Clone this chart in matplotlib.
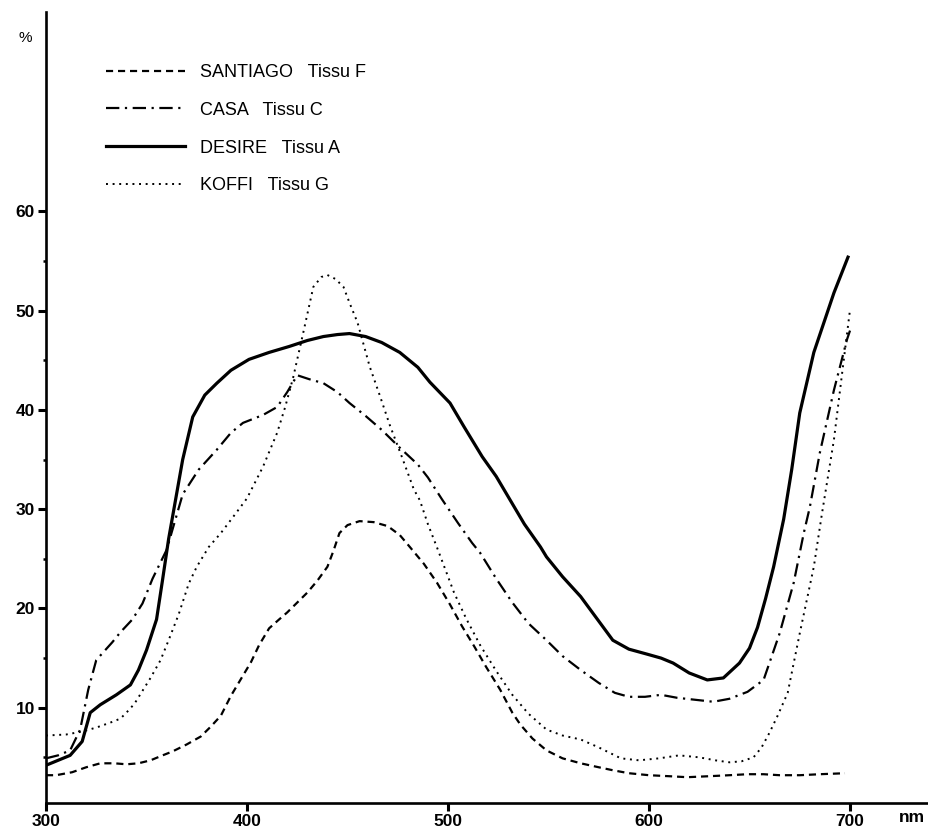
import matplotlib
matplotlib.use("Agg")
import matplotlib.pyplot as plt
from matplotlib.ticker import FixedLocator

plt.rcParams['font.family'] = ['Liberation Sans', 'DejaVu Sans']

# --- data (wavelength nm, %) ---
santiago_x = [300, 305, 313, 320, 327, 334, 340, 346, 352, 358, 363, 370, 377, 382, 387, 392, 397, 402, 406,
              411, 416, 420, 425, 430, 435, 440, 443, 446, 450, 456, 463, 470, 476, 481, 488, 494.5, 501, 507,
              513, 519, 526, 532, 536, 542, 549, 557, 566, 575, 582, 590, 600, 610, 619, 630, 640, 649, 657,
              665, 675, 685, 697.5]
santiago_y = [3.2, 3.2, 3.5, 4.0, 4.4, 4.4, 4.3, 4.4, 4.7, 5.2, 5.6, 6.3, 7.1, 8.1, 9.2, 11.2, 12.9, 14.6, 16.3,
              18.0, 18.9, 19.6, 20.6, 21.6, 22.8, 24.2, 25.8, 27.6, 28.4, 28.8, 28.7, 28.3, 27.4, 26.2, 24.5, 22.6,
              20.4, 18.2, 16.2, 14.1, 11.8, 9.5, 8.3, 6.9, 5.7, 4.9, 4.4, 4.0, 3.7, 3.4, 3.2, 3.1, 3.0, 3.1, 3.2,
              3.3, 3.3, 3.2, 3.2, 3.3, 3.4]

casa_x = [300, 306, 312, 317, 321, 325, 333, 337, 343, 348, 353, 360, 368, 376, 385, 392, 398, 408, 415, 420,
          425, 431, 438, 445, 451, 459, 467, 476, 485, 490, 497, 505, 512, 516, 524, 532, 540, 549, 557, 566,
          575, 583, 590, 598, 606, 614, 623, 632, 640, 649, 657, 665, 672, 677, 680, 685, 692, 698.5, 700]
casa_y = [4.9, 5.2, 5.7, 7.8, 11.8, 14.8, 16.6, 17.6, 18.9, 20.5, 23.0, 25.9, 31.5, 34.0, 36.0, 37.7, 38.7, 39.5,
          40.3, 41.8, 43.5, 43.1, 42.7, 41.8, 40.7, 39.4, 38.0, 36.2, 34.5, 33.2, 31.0, 28.6, 26.6, 25.6, 23.0,
          20.6, 18.5, 16.8, 15.2, 13.8, 12.5, 11.5, 11.1, 11.1, 11.3, 11.0, 10.8, 10.6, 10.9, 11.6, 12.8, 17.5,
          22.6, 27.6, 30.2, 35.7, 42.0, 47.1, 48.0]

desire_x = [300, 312, 318, 322, 327, 335, 342, 346, 350, 355, 358, 361, 364.5, 368, 373, 379, 385, 392, 401,
            411, 421, 430, 438, 445, 451, 459, 467, 476, 485, 491, 501, 508, 517, 524, 531, 538, 546, 549, 557,
            566, 574, 582, 590, 599, 606, 612, 620, 629, 637, 645, 650, 654, 658, 662, 667, 671, 675, 682, 692,
            699]
desire_y = [4.2, 5.2, 6.6, 9.5, 10.3, 11.3, 12.3, 13.8, 15.8, 18.9, 22.9, 27.0, 31.0, 35.0, 39.3, 41.5, 42.7,
            44.0, 45.1, 45.8, 46.4, 47.0, 47.4, 47.6, 47.7, 47.4, 46.8, 45.8, 44.3, 42.8, 40.7, 38.3, 35.3, 33.3,
            30.9, 28.5, 26.2, 25.2, 23.2, 21.2, 19.0, 16.8, 15.9, 15.4, 15.0, 14.5, 13.5, 12.8, 13.0, 14.5, 16.0,
            18.1, 21.0, 24.2, 29.0, 34.0, 39.7, 45.8, 51.8, 55.4]

koffi_x = [300, 310, 318, 325, 332, 337, 340, 344, 348, 352, 357, 361, 366, 371, 375, 381, 387, 393, 400, 408,
           415, 419, 423, 428, 433, 437, 440, 444, 448, 451, 455, 461, 466, 471, 477, 483, 486, 490, 495, 503,
           509, 516, 524, 532, 540, 549, 557, 566, 575, 586, 595, 605, 615, 625, 633, 640, 646, 652, 656, 660,
           664, 669, 675, 682, 686, 692, 696.5, 700]
koffi_y = [7.2, 7.3, 7.6, 8.0, 8.5, 8.9, 9.5, 10.4, 11.7, 13.0, 14.8, 16.8, 19.4, 22.5, 24.2, 26.2, 27.6, 29.2,
           31.1, 34.3, 37.7, 40.3, 43.3, 47.8, 52.4, 53.4, 53.6, 53.2, 52.4, 50.8, 48.8, 44.4, 41.5, 38.5, 35.3,
           32.0, 30.9, 28.5, 25.9, 21.6, 19.0, 16.3, 13.7, 11.3, 9.4, 7.8, 7.2, 6.8, 6.0, 4.9, 4.7, 4.9, 5.2,
           5.0, 4.7, 4.5, 4.6, 5.0, 6.0, 7.5, 9.2, 11.5, 17.5, 24.2, 29.5, 37.0, 44.4, 50.1]

labels = ["SANTIAGO   Tissu F", "CASA   Tissu C", "DESIRE   Tissu A", "KOFFI   Tissu G"]
x_ticks = [300, 400, 500, 600, 700]
y_ticks = [10, 20, 30, 40, 50, 60]

fig = plt.figure(figsize=(9.29, 8.32), dpi=100)
ax = fig.add_axes([46 / 929, 29 / 832, 883 / 929, 791 / 832])

ax.plot(santiago_x, santiago_y, color='black', lw=1.6, linestyle=(0, (3.2, 2.2)), label=labels[0])
ax.plot(casa_x, casa_y, color='black', lw=1.6, linestyle=(0, (6, 2.5, 1, 2.5)), label=labels[1])
ax.plot(desire_x, desire_y, color='black', lw=2.3, linestyle='-', label=labels[2])
ax.plot(koffi_x, koffi_y, color='black', lw=1.4, linestyle=(0, (1, 2.4)), label=labels[3])

ax.set_xlim(300, 739.3)
ax.set_ylim(0.4, 80.1)

for s in ['top', 'right']:
    ax.spines[s].set_visible(False)
for s in ['left', 'bottom']:
    ax.spines[s].set_linewidth(1.9)

ax.xaxis.set_major_locator(FixedLocator(x_ticks))
ax.yaxis.set_major_locator(FixedLocator(y_ticks))
ax.yaxis.set_minor_locator(FixedLocator([5, 15, 25, 35, 45, 55]))
ax.tick_params(axis='both', which='major', direction='out', length=6, width=2.2,
               labelsize=12.5, pad=2)
ax.tick_params(axis='y', which='minor', direction='out', length=2.5, width=1.8)
for lab in ax.get_xticklabels() + ax.get_yticklabels():
    lab.set_fontweight('bold')

fig.text(25 / 929, 1 - 38 / 832, '%', fontsize=11, ha='center', va='center')
fig.text(912 / 929, 1 - 818 / 832, 'nm', fontsize=12.5, ha='center', va='center', fontweight='bold')

leg = ax.legend(loc='upper left', bbox_to_anchor=((106 - 46) / 883, (803 - 64) / 791), frameon=False,
                fontsize=13, handlelength=4.4, handletextpad=0.8, labelspacing=1.15,
                borderaxespad=0, borderpad=0)

fig.savefig('out.png', dpi=100)
